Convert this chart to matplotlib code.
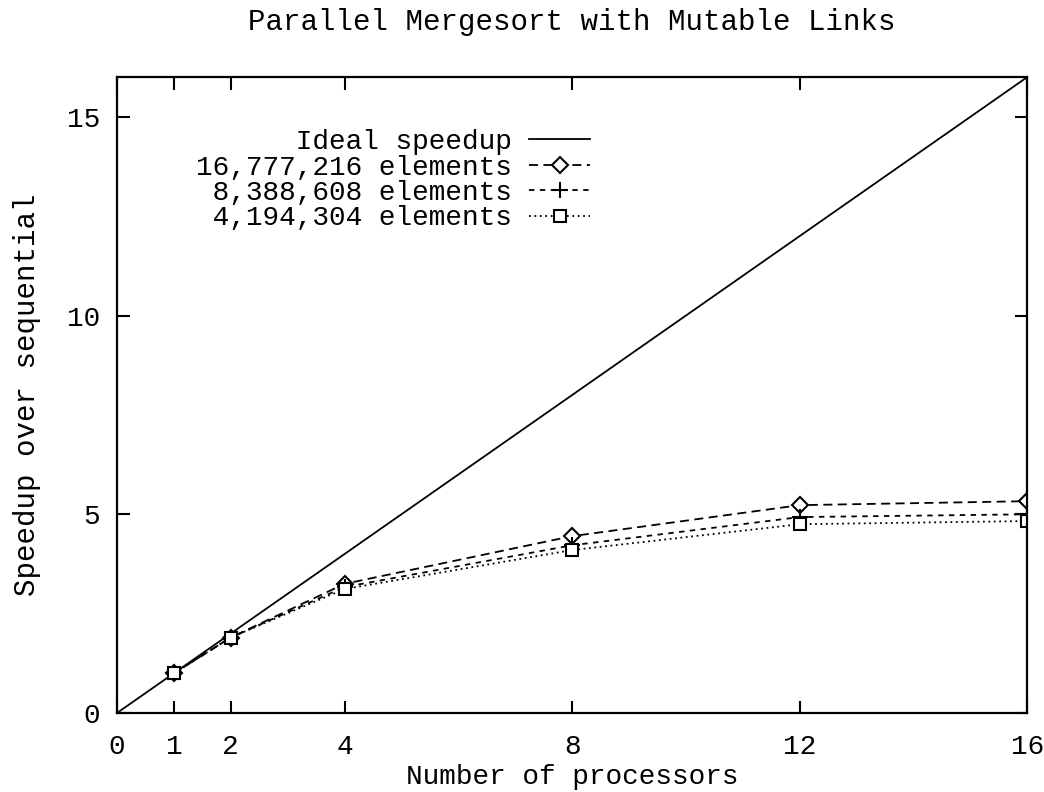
import matplotlib
matplotlib.use("Agg")
import matplotlib.pyplot as plt

# data
procs = [1, 2, 4, 8, 12, 16]
ideal_x = [0, 16]
ideal_y = [0, 16]
speed_16m = [1.0, 1.9, 3.25, 4.45, 5.23, 5.33]
speed_8m = [1.0, 1.9, 3.17, 4.22, 4.93, 5.0]
speed_4m = [1.0, 1.9, 3.12, 4.1, 4.75, 4.83]

labels = ["      Ideal speedup", "16,777,216 elements",
          " 8,388,608 elements", " 4,194,304 elements"]
xticks = [0, 1, 2, 4, 8, 12, 16]
yticks = [0, 5, 10, 15]

plt.rcParams['font.family'] = ['Liberation Mono', 'DejaVu Sans Mono']
plt.rcParams['font.size'] = 20
plt.rcParams['axes.titlesize'] = 20

fig = plt.figure(figsize=(10.44, 7.92), dpi=100)
ax = fig.add_axes([0.112, 0.0997, 0.872, 0.803])

ax.plot(ideal_x, ideal_y, color='black', lw=1.3, label=labels[0])
ax.plot(procs, speed_16m, color='black', lw=1.3, ls=(0, (5, 3)),
        marker='D', ms=8, mfc='white', mec='black', mew=1.5, label=labels[1])
ax.plot(procs, speed_8m, color='black', lw=1.3, ls=(0, (3, 3)),
        marker='+', ms=12, mew=1.5, label=labels[2])
ax.plot(procs, speed_4m, color='black', lw=1.3, ls=(0, (1, 2)),
        marker='s', ms=9, mfc='white', mec='black', mew=1.5, label=labels[3])

ax.set_xlim(0, 16)
ax.set_ylim(0, 16)
ax.set_xticks(xticks)
ax.set_yticks(yticks)
ax.tick_params(direction='in', length=9, width=1.5, top=True, right=True)
ax.tick_params(axis='x', pad=15)
ax.tick_params(axis='y', pad=12)
for s in ax.spines.values():
    s.set_linewidth(1.6)

ax.set_xlabel('Number of processors', labelpad=3)
ax.set_ylabel('Speedup over sequential', fontsize=21, labelpad=19)
ax.set_title('Parallel Mergesort with Mutable Links', fontsize=21, pad=34)

leg = ax.legend(loc='upper right', bbox_to_anchor=(0.535, 0.94),
                frameon=False, markerfirst=False, borderpad=0,
                labelspacing=-0.02, handlelength=2.2, handletextpad=0.6)

fig.savefig('out.png', dpi=100)
